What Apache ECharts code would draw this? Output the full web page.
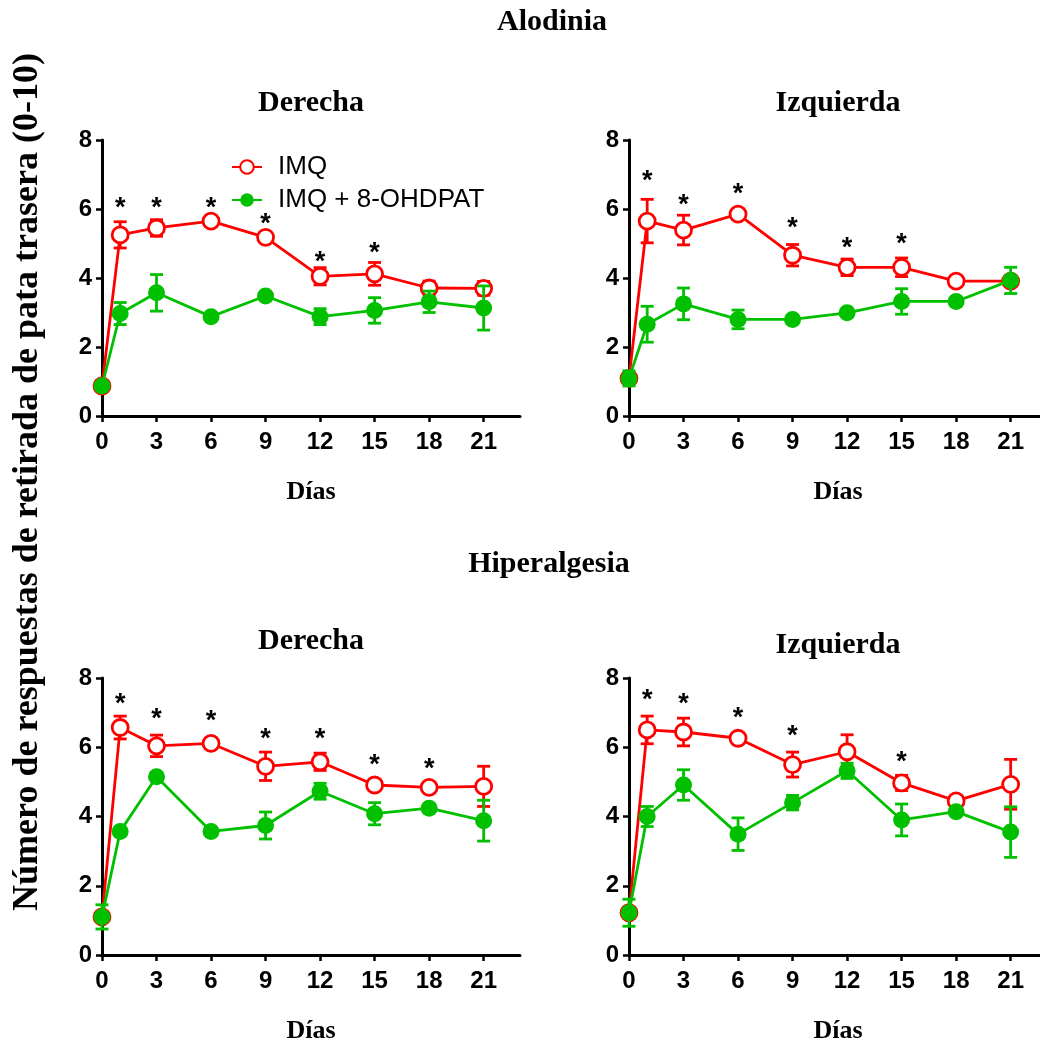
<!DOCTYPE html>
<html lang="es">
<head>
    <meta charset="UTF-8">
    <script src="https://cdn.jsdelivr.net/npm/echarts@6/dist/echarts.min.js"></script>
    <title>Alodinia / Hiperalgesia</title>
    <style>
        html, body { margin: 0; padding: 0; background: #fff; }
    </style>
</head>
<body>
    <div id="main" style="width: 1040px;height:1040px;"></div>
</body>
<script type="text/javascript">
    // dias de medicion
    var days = [0, 1, 3, 6, 9, 12, 15, 18, 21];
    var dayTicks = [0, 3, 6, 9, 12, 15, 18, 21];
    var seriesNames = ['IMQ', 'IMQ + 8-OHDPAT'];

    // Alodinia - Derecha
    var aloDerImq = [0.87, 5.25, 5.45, 5.65, 5.18, 4.05, 4.12, 3.71, 3.70];
    var aloDerImqSem = [0, 0.38, 0.24, 0, 0, 0.25, 0.33, 0.2, 0.2];
    var aloDerOh = [0.87, 2.97, 3.57, 2.88, 3.48, 2.88, 3.06, 3.31, 3.13];
    var aloDerOhSem = [0, 0.32, 0.53, 0, 0, 0.23, 0.37, 0.31, 0.64];
    var aloDerStars = [null, 6.15, 6.15, 6.15, 5.7, 4.6, 4.86, null, null];

    // Alodinia - Izquierda
    var aloIzqImq = [1.09, 5.65, 5.39, 5.85, 4.66, 4.31, 4.31, 3.91, 3.91];
    var aloIzqImqSem = [0, 0.63, 0.43, 0, 0.31, 0.24, 0.27, 0, 0];
    var aloIzqOh = [1.09, 2.66, 3.25, 2.80, 2.80, 2.99, 3.32, 3.32, 3.93];
    var aloIzqOhSem = [0.22, 0.52, 0.46, 0.27, 0, 0, 0.37, 0, 0.38];
    var aloIzqStars = [null, 6.95, 6.25, 6.55, 5.59, 4.99, 5.11, null, null];

    // Hiperalgesia - Derecha
    var hipDerImq = [1.10, 6.57, 6.04, 6.11, 5.45, 5.58, 4.91, 4.84, 4.87];
    var hipDerImqSem = [0, 0.33, 0.31, 0, 0.41, 0.25, 0, 0, 0.58];
    var hipDerOh = [1.10, 3.57, 5.15, 3.57, 3.74, 4.73, 4.08, 4.24, 3.88];
    var hipDerOhSem = [0.35, 0, 0, 0, 0.39, 0.23, 0.32, 0, 0.59];
    var hipDerStars = [null, 7.39, 6.94, 6.89, 6.38, 6.36, 5.62, 5.49, null];

    // Hiperalgesia - Izquierda
    var hipIzqImq = [1.22, 6.50, 6.44, 6.26, 5.50, 5.87, 4.97, 4.45, 4.93];
    var hipIzqImqSem = [0, 0.4, 0.4, 0, 0.36, 0.49, 0.22, 0, 0.72];
    var hipIzqOh = [1.22, 4.0, 4.91, 3.49, 4.40, 5.32, 3.90, 4.14, 3.55];
    var hipIzqOhSem = [0.39, 0.29, 0.44, 0.47, 0.21, 0.22, 0.46, 0, 0.73];
    var hipIzqStars = [null, 7.49, 7.39, 6.97, 6.44, null, 5.69, null, null];

    var RED = '#ff0000';
    var GREEN = '#00c000';
    var SANS = '"Liberation Sans", Arial, sans-serif';
    var SERIF = '"Liberation Serif", "Times New Roman", serif';

    var panels = [
        {imq: aloDerImq, imqSem: aloDerImqSem, oh: aloDerOh, ohSem: aloDerOhSem, stars: aloDerStars},
        {imq: aloIzqImq, imqSem: aloIzqImqSem, oh: aloIzqOh, ohSem: aloIzqOhSem, stars: aloIzqStars},
        {imq: hipDerImq, imqSem: hipDerImqSem, oh: hipDerOh, ohSem: hipDerOhSem, stars: hipDerStars},
        {imq: hipIzqImq, imqSem: hipIzqImqSem, oh: hipIzqOh, ohSem: hipIzqOhSem, stars: hipIzqStars}
    ];
    var gridPos = [
        {left: 102, top: 140, width: 418, height: 276},
        {left: 629, top: 140, width: 418, height: 276},
        {left: 102, top: 678, width: 418, height: 277},
        {left: 629, top: 678, width: 418, height: 277}
    ];

    function errData(mean, sem) {
        return days.map(function (d, i) { return [d, mean[i] - sem[i], mean[i] + sem[i]]; });
    }

    function renderErr(params, api) {
        var lo = api.value(1), hi = api.value(2);
        if (hi - lo <= 0) return;
        var x = api.value(0);
        var top = api.coord([x, hi]);
        var bot = api.coord([x, lo]);
        var cap = 6.5;
        var st = {stroke: api.visual('color'), lineWidth: 2.8};
        return {
            type: 'group',
            children: [
                {type: 'line', shape: {x1: top[0], y1: top[1], x2: bot[0], y2: bot[1]}, style: st},
                {type: 'line', shape: {x1: top[0] - cap, y1: top[1], x2: top[0] + cap, y2: top[1]}, style: st},
                {type: 'line', shape: {x1: bot[0] - cap, y1: bot[1], x2: bot[0] + cap, y2: bot[1]}, style: st}
            ]
        };
    }

    function renderStar(params, api) {
        var p = api.coord([api.value(0), api.value(1)]);
        return {
            type: 'text',
            x: p[0],
            y: p[1] + 5,
            style: {text: '*', fill: '#000', font: 'bold 27px ' + SANS, align: 'center', verticalAlign: 'middle'}
        };
    }

    var grids = [], xAxes = [], yAxes = [], series = [];
    panels.forEach(function (p, k) {
        grids.push(Object.assign({outerBoundsMode: 'none', containLabel: false}, gridPos[k]));
        xAxes.push({
            type: 'value', gridIndex: k, min: 0, max: 23,
            name: 'Días', nameLocation: 'middle', nameGap: 63,
            nameTextStyle: {fontFamily: SERIF, fontWeight: 'bold', fontSize: 26, color: '#000'},
            axisLine: {lineStyle: {color: '#000', width: 3}},
            axisTick: {show: true, length: 6, lineStyle: {width: 2.5, color: '#000'}, customValues: dayTicks},
            axisLabel: {fontFamily: SANS, fontWeight: 'bold', fontSize: 24, color: '#000', margin: 14, customValues: dayTicks},
            splitLine: {show: false}
        });
        yAxes.push({
            type: 'value', gridIndex: k, min: 0, max: 8, interval: 2,
            axisLine: {show: true, lineStyle: {color: '#000', width: 3}},
            axisTick: {show: true, length: 6, lineStyle: {width: 2.5, color: '#000'}},
            axisLabel: {fontFamily: SANS, fontWeight: 'bold', fontSize: 24, color: '#000', margin: 10},
            splitLine: {show: false}
        });
        series.push({
            type: 'custom', xAxisIndex: k, yAxisIndex: k, z: 2, silent: true,
            itemStyle: {color: RED}, renderItem: renderErr, data: errData(p.imq, p.imqSem)
        });
        series.push({
            name: seriesNames[0], type: 'line', xAxisIndex: k, yAxisIndex: k, z: 3,
            data: days.map(function (d, i) { return [d, p.imq[i]]; }),
            symbol: 'circle', symbolSize: 16, showAllSymbol: true,
            lineStyle: {color: RED, width: 2.8},
            itemStyle: {color: '#fff', borderColor: RED, borderWidth: 2.8},
            animation: false
        });
        series.push({
            type: 'custom', xAxisIndex: k, yAxisIndex: k, z: 4, silent: true,
            itemStyle: {color: GREEN}, renderItem: renderErr, data: errData(p.oh, p.ohSem)
        });
        series.push({
            name: seriesNames[1], type: 'line', xAxisIndex: k, yAxisIndex: k, z: 5,
            data: days.map(function (d, i) { return [d, p.oh[i]]; }),
            symbol: 'circle', symbolSize: 17, showAllSymbol: true,
            lineStyle: {color: GREEN, width: 2.8},
            itemStyle: {color: GREEN, borderColor: GREEN, borderWidth: 0},
            animation: false
        });
        series.push({
            type: 'custom', xAxisIndex: k, yAxisIndex: k, z: 6, silent: true,
            renderItem: renderStar,
            data: days.map(function (d, i) { return [d, p.stars[i]]; }).filter(function (v) { return v[1] != null; })
        });
    });

    function header(text, x, y, size) {
        return {
            type: 'text', x: x, y: y,
            style: {text: text, fill: '#000', font: 'bold ' + size + 'px ' + SERIF, align: 'center', verticalAlign: 'middle'}
        };
    }

    var chart = echarts.init(document.getElementById('main'));
    chart.setOption({
        animation: false,
        backgroundColor: '#fff',
        grid: grids,
        xAxis: xAxes,
        yAxis: yAxes,
        legend: {
            data: seriesNames,
            orient: 'vertical',
            left: 231, top: 154,
            padding: 0,
            itemGap: 7,
            itemWidth: 30, itemHeight: 17,
            textStyle: {fontFamily: SANS, fontSize: 26, color: '#000', padding: [0, 0, 0, 11]}
        },
        graphic: [
            header('Alodinia', 552, 22, 30),
            header('Derecha', 311, 103, 30),
            header('Izquierda', 838, 103, 30),
            header('Hiperalgesia', 549, 564, 30),
            header('Derecha', 311, 641, 30),
            header('Izquierda', 838, 645, 30),
            {
                type: 'text', x: 28, y: 482, rotation: Math.PI / 2,
                style: {
                    text: 'Número de respuestas de retirada de pata trasera (0-10)',
                    fill: '#000', font: 'bold 36px ' + SERIF, align: 'center', verticalAlign: 'middle'
                }
            }
        ],
        series: series
    });
</script>
</html>
